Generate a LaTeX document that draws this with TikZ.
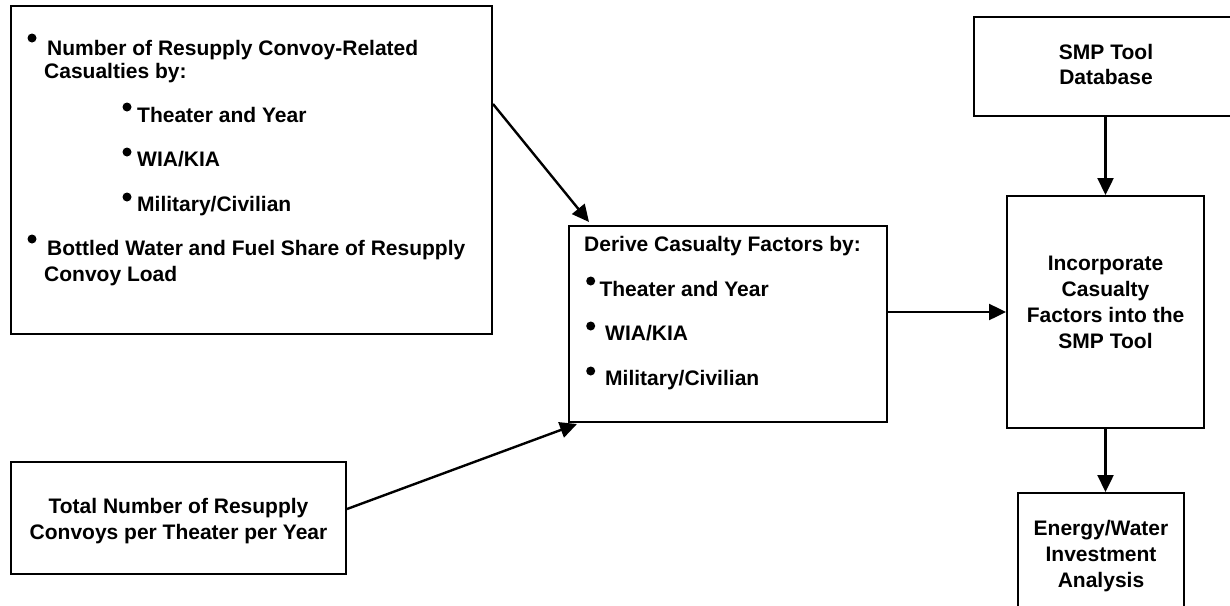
\documentclass[tikz,border=0pt]{standalone}
\usepackage{fontspec}
\setmainfont{Liberation Sans}
\usetikzlibrary{arrows.meta,calc}
\begin{document}
\begin{tikzpicture}[x=1pt,y=-1pt,
  box/.style={draw,line width=2pt,rectangle,inner sep=0pt},
  lt/.style={anchor=base west,inner sep=0pt,font=\fontsize{21}{25}\selectfont\bfseries},
  ct/.style={anchor=base,inner sep=0pt,font=\fontsize{21}{25}\selectfont\bfseries},
  bul/.style={circle,fill,draw=none,inner sep=0pt,minimum size=9pt},
  arr/.style={line width=2.4pt,-{Triangle[length=17pt,width=16pt]}}]
\useasboundingbox (0,0) rectangle (1230,605);
% boxes
\node[box,minimum width=481pt,minimum height=328pt] (topbox) at (251.5,170) {};
\node[box,minimum width=318pt,minimum height=196pt] (mid) at (728,324) {};
\node[box,minimum width=264pt,minimum height=99pt] (smp) at (1106,66.5) {};
\node[box,minimum width=197pt,minimum height=232pt] (inc) at (1105.5,312) {};
\node[box,minimum width=166pt,minimum height=150pt] (energy) at (1101,568) {};
\node[box,minimum width=335pt,minimum height=112pt] (total) at (178.5,518) {};
% top-left box text
\node[bul] (b1) at (32,38) {};
\node[lt] (t1) at (47,55) {Number of Resupply Convoy-Related};
\node[lt] (t2) at (44,78) {Casualties by:};
\node[bul] (b2) at (127,107) {};
\node[lt] (t3) at (137,122.7) {Theater and Year};
\node[bul] (b3) at (127,152) {};
\node[lt] (t4) at (137,166.7) {WIA/KIA};
\node[bul] (b4) at (127,197) {};
\node[lt] (t5) at (137,211.7) {Military/Civilian};
\node[bul] (b5) at (32,239) {};
\node[lt] (t6) at (47,255) {Bottled Water and Fuel Share of Resupply};
\node[lt] (t7) at (44,281.7) {Convoy Load};
% middle box text
\node[lt] (m1) at (584,251.7) {Derive Casualty Factors by:};
\node[bul] (mb1) at (590.7,281) {};
\node[lt] (m2) at (599.3,296.7) {Theater and Year};
\node[bul] (mb2) at (590.7,326) {};
\node[lt] (m3) at (605,340.7) {WIA/KIA};
\node[bul] (mb3) at (590.7,371) {};
\node[lt] (m4) at (605,385) {Military/Civilian};
% right column text
\node[ct] (s1) at (1106,59) {SMP Tool};
\node[ct] (s2) at (1106,84) {Database};
\node[ct] (i1) at (1105.5,270) {Incorporate};
\node[ct] (i2) at (1105.5,296) {Casualty};
\node[ct] (i3) at (1105.5,322) {Factors into the};
\node[ct] (i4) at (1105.5,348) {SMP Tool};
\node[ct] (e1) at (1101,535) {Energy/Water};
\node[ct] (e2) at (1101,561) {Investment};
\node[ct] (e3) at (1101,587) {Analysis};
% bottom-left text
\node[ct] (tt1) at (178.5,513) {Total Number of Resupply};
\node[ct] (tt2) at (178.5,539) {Convoys per Theater per Year};
% connectors
\coordinate (p1) at ($(mid.north west)+(21,-3)$);
\coordinate (p2) at ($(mid.south west)+(9,1)$);
\draw[arr] ($(topbox.north east)+(0,99)$) -- (p1);
\draw[arr] ($(total.north east)+(0,48)$) -- (p2);
\draw[arr] (mid.east |- inc.west) -- (inc.west);
\draw[arr] (smp.south -| inc.north) -- (inc.north);
\draw[arr] (inc.south) -- (inc.south |- energy.north);
\end{tikzpicture}
\end{document}
